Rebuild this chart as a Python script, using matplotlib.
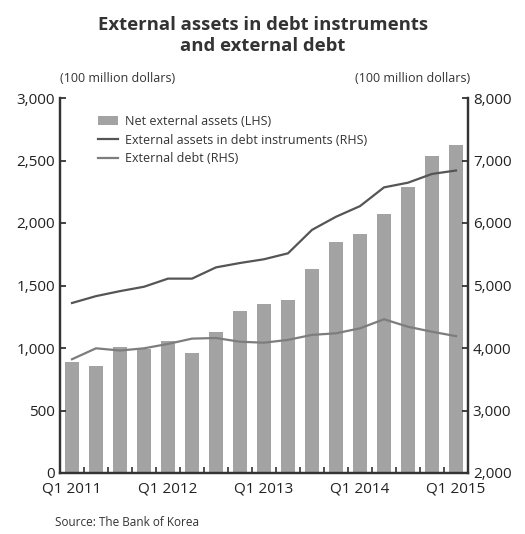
import matplotlib
matplotlib.use("Agg")
import matplotlib.pyplot as plt
from matplotlib.ticker import FuncFormatter, FixedLocator
import numpy as np

quarters = ["Q1 2011", "Q2 2011", "Q3 2011", "Q4 2011",
            "Q1 2012", "Q2 2012", "Q3 2012", "Q4 2012",
            "Q1 2013", "Q2 2013", "Q3 2013", "Q4 2013",
            "Q1 2014", "Q2 2014", "Q3 2014", "Q4 2014",
            "Q1 2015"]
net_external_assets = [890, 855, 1005, 990, 1060, 960, 1125, 1295,
                       1355, 1385, 1635, 1850, 1910, 2070, 2290, 2535, 2625]
assets_debt_instruments = [4720, 4830, 4910, 4980, 5110, 5110, 5290, 5360,
                           5420, 5515, 5890, 6100, 6270, 6570, 6645, 6785, 6840]
external_debt = [3820, 3995, 3960, 3995, 4065, 4150, 4160, 4100,
                 4085, 4130, 4210, 4235, 4315, 4460, 4340, 4260, 4190]
shown_ticks = ["Q1 2011", "Q1 2012", "Q1 2013", "Q1 2014", "Q1 2015"]

plt.rcParams['font.family'] = ['Open Sans', 'DejaVu Sans']

fig = plt.figure(figsize=(5.25, 5.34), dpi=100)
ax = fig.add_axes([60/525, 61/534, 408/525, 375/534])
ax2 = ax.twinx()

x = np.arange(len(quarters))
bar_color = "#a3a3a3"
line1_color = "#555555"
line2_color = "#7d7d7d"

b = ax.bar(x, net_external_assets, width=0.55, color=bar_color, zorder=1,
           label="Net external assets (LHS)")
l1, = ax2.plot(x, assets_debt_instruments, color=line1_color, lw=1.6,
               label="External assets in debt instruments (RHS)")
l2, = ax2.plot(x, external_debt, color=line2_color, lw=1.6,
               label="External debt (RHS)")

ax.set_xlim(-0.5, len(quarters) - 0.5)
ax.set_ylim(0, 3000)
ax2.set_ylim(2000, 8000)
ax.set_yticks(range(0, 3001, 500))
ax2.set_yticks(range(2000, 8001, 1000))
fmt = FuncFormatter(lambda v, p: f"{int(v):,}")
ax.yaxis.set_major_formatter(fmt)
ax2.yaxis.set_major_formatter(fmt)

major_pos = [quarters.index(q) for q in shown_ticks]
ax.set_xticks(major_pos)
ax.set_xticklabels(shown_ticks)
ax.xaxis.set_minor_locator(FixedLocator(np.arange(-0.5, len(quarters), 1.0)))
ax.tick_params(axis='x', which='major', length=0, labelsize=11, pad=6, colors='#222222')
ax.tick_params(axis='x', which='minor', direction='in', length=4, width=1.2, color='#333333')
ax.tick_params(axis='y', direction='in', length=4, width=1.2, labelsize=11, colors='#222222')
ax2.tick_params(axis='y', direction='in', length=4, width=1.2, labelsize=11, colors='#222222')

for a in (ax, ax2):
    a.spines['top'].set_visible(False)
    for s in ('left', 'right', 'bottom'):
        a.spines[s].set_linewidth(1.6)
        a.spines[s].set_color('#333333')

ax2.set_zorder(ax.get_zorder() + 1)
ax2.patch.set_visible(False)

leg = ax2.legend([b, l1, l2],
                 [b.get_label(), l1.get_label(), l2.get_label()],
                 loc='upper left', bbox_to_anchor=(0.065, 0.985), frameon=False,
                 fontsize=9, handlelength=1.6, handleheight=0.8,
                 labelspacing=0.45, handletextpad=0.6, labelcolor='#333333')

fig.text(263/525, 1 - 16/534, "External assets in debt instruments\nand external debt",
         ha='center', va='top', fontsize=13.3, fontweight='bold', color='#333333',
         linespacing=1.2)
fig.text(60/525, 1 - 78/534, "(100 million dollars)", ha='left', va='center',
         fontsize=9, color='#333333')
fig.text(470/525, 1 - 78/534, "(100 million dollars)", ha='right', va='center',
         fontsize=9, color='#333333')
fig.text(55/525, 1 - 522/534, "Source: The Bank of Korea", ha='left', va='center',
         fontsize=8.5, color='#333333')

fig.savefig("out.png", dpi=100)
